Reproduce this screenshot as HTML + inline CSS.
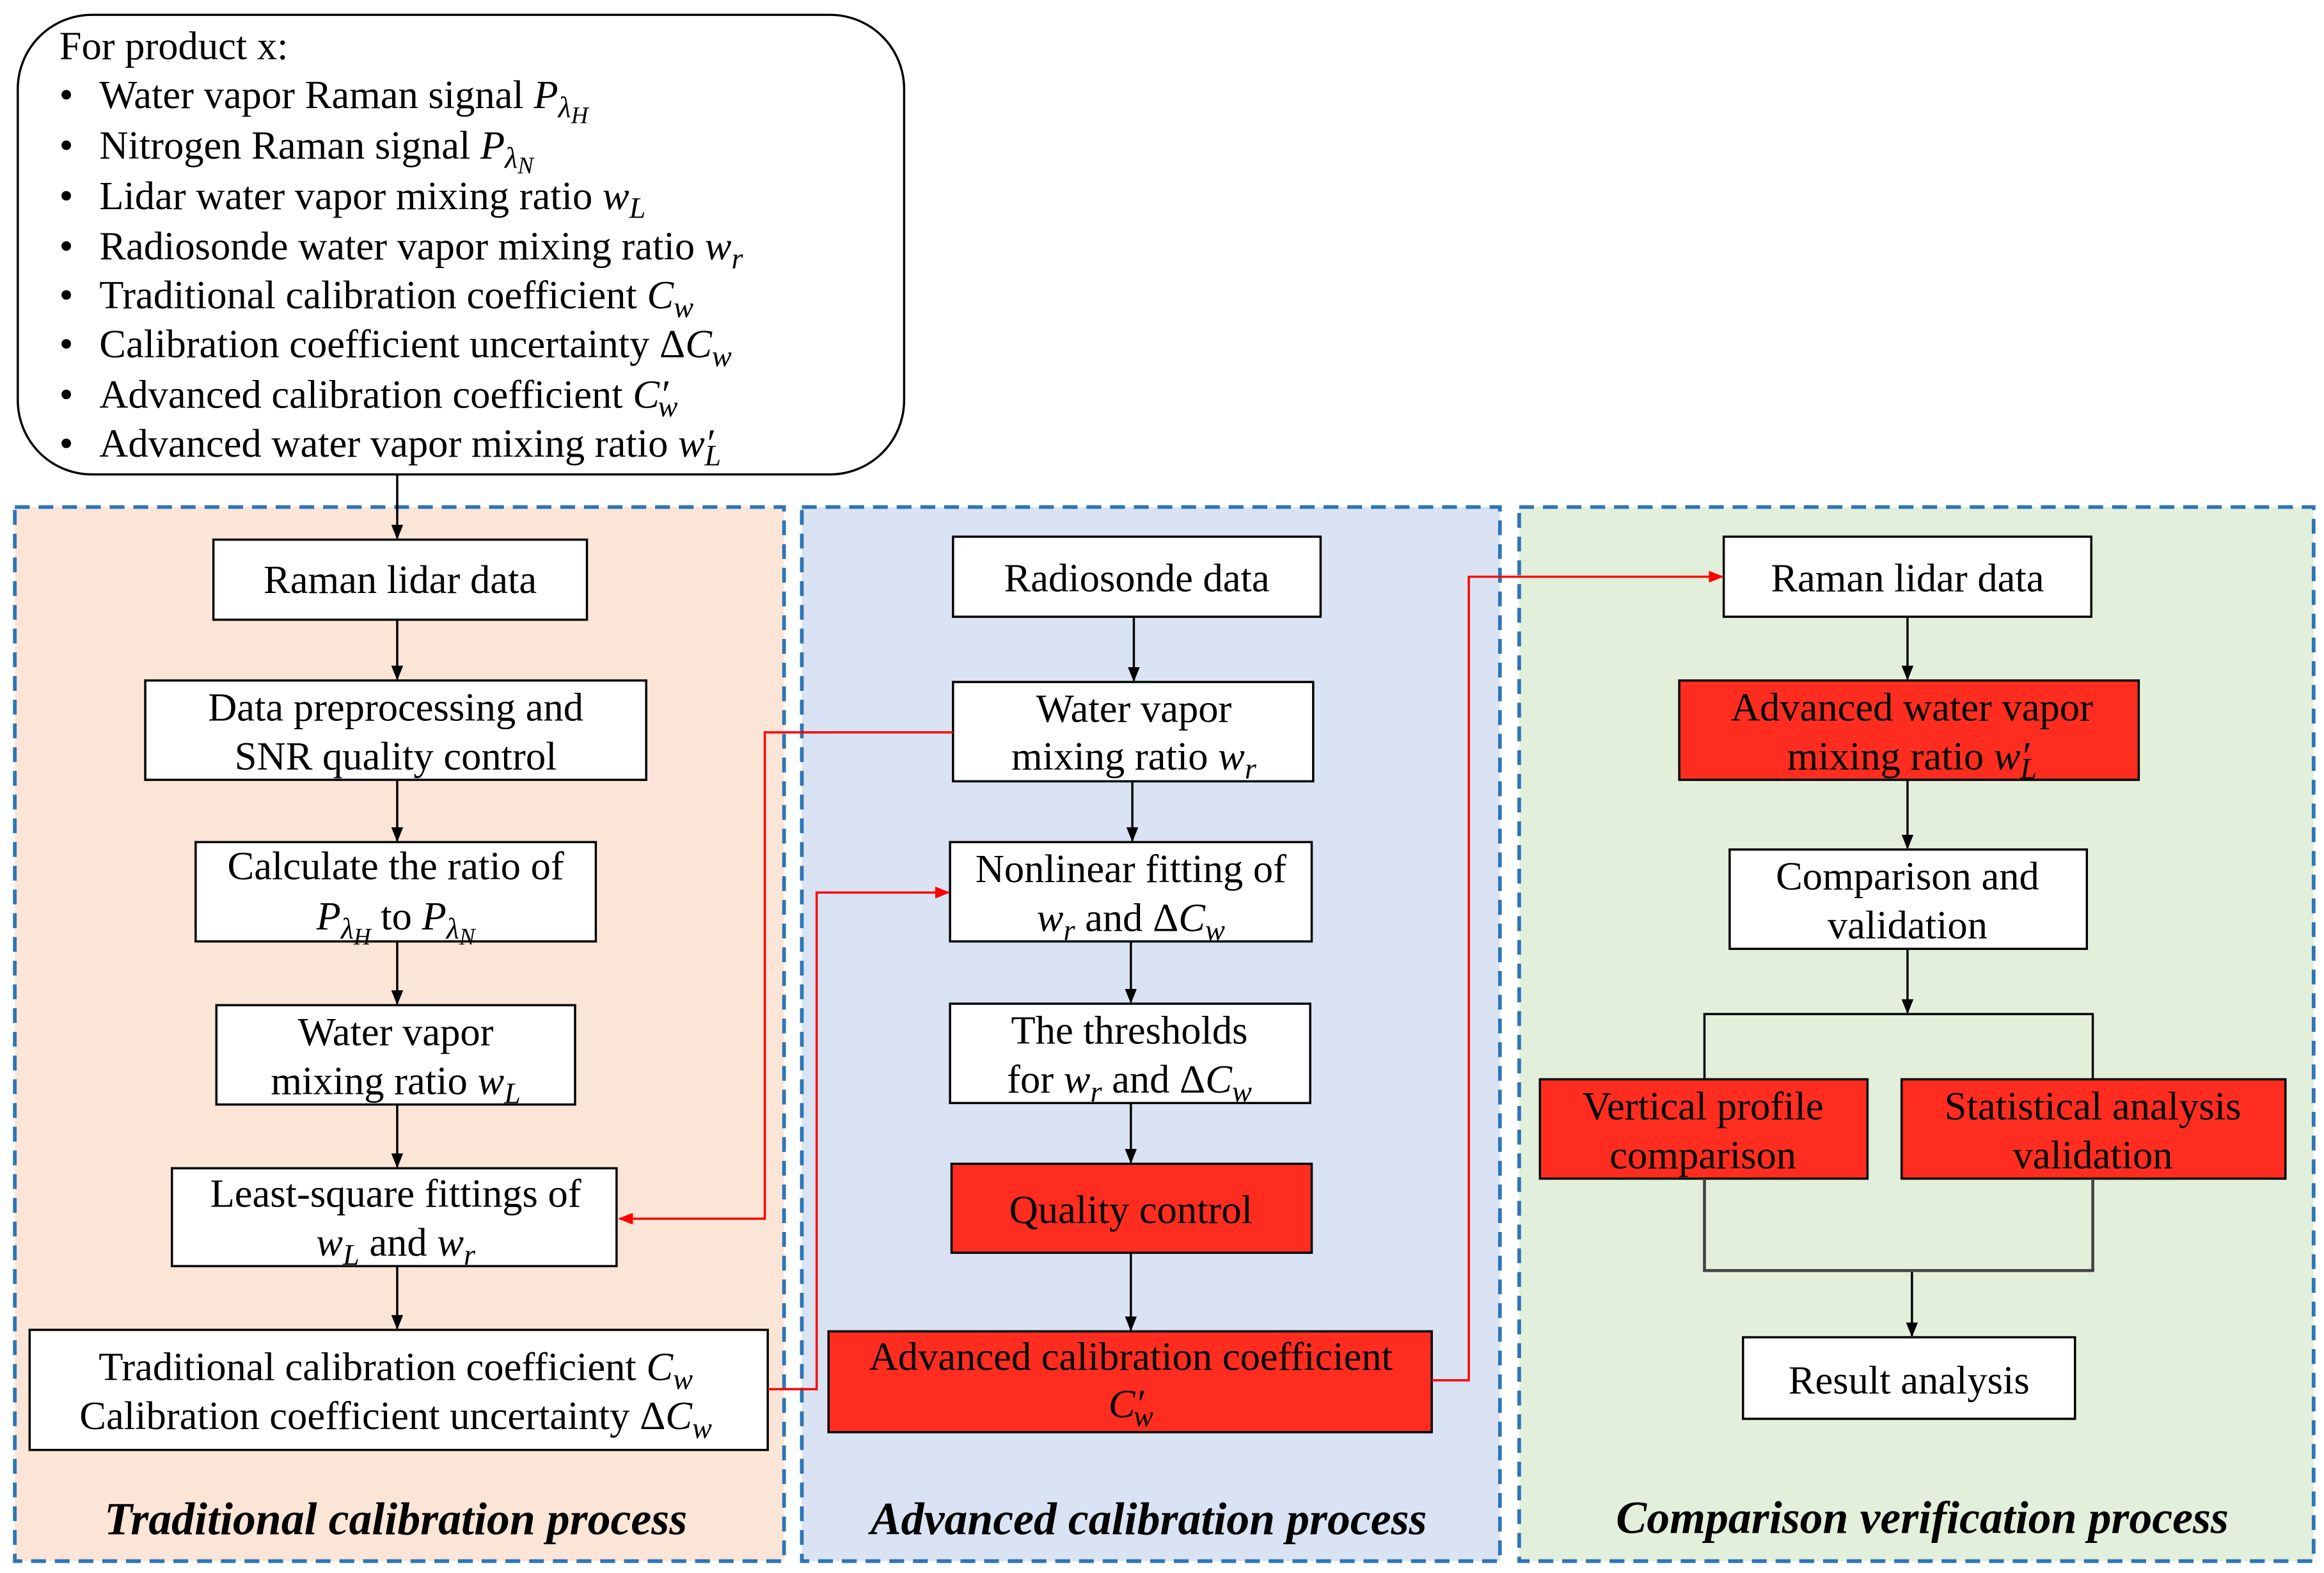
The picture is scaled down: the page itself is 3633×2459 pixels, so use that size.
<!DOCTYPE html>
<html><head><meta charset="utf-8"><style>
html,body{margin:0;padding:0;background:#fff}
svg{display:block}
svg text{font-family:"Liberation Serif","Times New Roman",serif;font-size:27px;fill:#000}
svg .c{text-anchor:middle}
svg .i{font-style:italic}
svg .t{font-size:31px;font-weight:bold;font-style:italic;text-anchor:middle}
</style></head><body>
<svg width="3633" height="2459" viewBox="0 0 1568 1061" preserveAspectRatio="none" xmlns="http://www.w3.org/2000/svg" font-family="Liberation Serif, serif">
<defs>
<marker id="a" markerWidth="10" markerHeight="10" refX="9" refY="5" orient="auto" markerUnits="userSpaceOnUse"><path d="M0,1 L10,5 L0,9 z" fill="#000"/></marker>
<marker id="r" markerWidth="10" markerHeight="10" refX="9" refY="5" orient="auto" markerUnits="userSpaceOnUse"><path d="M0,1 L10,5 L0,9 z" fill="#f00"/></marker>
</defs>
<rect width="1568" height="1061" fill="#fff"/>
<rect x="10" y="342" width="519" height="711" fill="#fbe5d6" stroke="#2e75b6" stroke-width="2.5" stroke-dasharray="10,6"/>
<rect x="541" y="342" width="471" height="711" fill="#dae3f3" stroke="#2e75b6" stroke-width="2.5" stroke-dasharray="10,6"/>
<rect x="1025" y="342" width="536" height="711" fill="#e2efda" stroke="#2e75b6" stroke-width="2.5" stroke-dasharray="10,6"/>
<rect x="12" y="10" width="598" height="310" rx="50" fill="#fff" stroke="#000" stroke-width="1.5"/>
<text x="40" y="40">For product x:</text>
<text x="40" y="73">•</text><text x="67" y="73">Water vapor Raman signal <tspan class="i">P</tspan><tspan class="i" font-size="20" dy="6">λ</tspan><tspan class="i" font-size="16" dy="4">H</tspan></text>
<text x="40" y="107">•</text><text x="67" y="107">Nitrogen Raman signal <tspan class="i">P</tspan><tspan class="i" font-size="20" dy="6">λ</tspan><tspan class="i" font-size="16" dy="4">N</tspan></text>
<text x="40" y="141">•</text><text x="67" y="141">Lidar water vapor mixing ratio <tspan class="i">w</tspan><tspan class="i" font-size="20" dy="6">L</tspan></text>
<text x="40" y="175">•</text><text x="67" y="175">Radiosonde water vapor mixing ratio <tspan class="i">w</tspan><tspan class="i" font-size="20" dy="6">r</tspan></text>
<text x="40" y="208">•</text><text x="67" y="208">Traditional calibration coefficient <tspan class="i">C</tspan><tspan class="i" font-size="20" dy="6">w</tspan></text>
<text x="40" y="241">•</text><text x="67" y="241">Calibration coefficient uncertainty Δ<tspan class="i">C</tspan><tspan class="i" font-size="20" dy="6">w</tspan></text>
<text x="40" y="275">•</text><text x="67" y="275">Advanced calibration coefficient <tspan class="i">C′</tspan><tspan class="i" font-size="20" dy="6" dx="-7">w</tspan></text>
<text x="40" y="308">•</text><text x="67" y="308">Advanced water vapor mixing ratio <tspan class="i">w′</tspan><tspan class="i" font-size="20" dy="6" dx="-6">L</tspan></text>
<line x1="268" y1="320" x2="268" y2="363" stroke="#000" stroke-width="1.5" marker-end="url(#a)"/>

<g stroke="#000" stroke-width="1.5">
<rect x="144" y="364" width="252" height="54" fill="#fff"/>
<rect x="98" y="459" width="338" height="67" fill="#fff"/>
<rect x="132" y="568" width="270" height="67" fill="#fff"/>
<rect x="146" y="678" width="242" height="67" fill="#fff"/>
<rect x="116" y="788" width="300" height="66" fill="#fff"/>
<rect x="20" y="897" width="498" height="81" fill="#fff"/>
<rect x="643" y="362" width="248" height="54" fill="#fff"/>
<rect x="643" y="460" width="243" height="67" fill="#fff"/>
<rect x="641" y="568" width="244" height="67" fill="#fff"/>
<rect x="641" y="677" width="243" height="67" fill="#fff"/>
<rect x="642" y="785" width="243" height="60" fill="#ff2d20"/>
<rect x="559" y="898" width="407" height="68" fill="#ff2d20"/>
<rect x="1163" y="362" width="248" height="54" fill="#fff"/>
<rect x="1133" y="459" width="310" height="67" fill="#ff2d20"/>
<rect x="1167" y="573" width="241" height="67" fill="#fff"/>
<rect x="1039" y="728" width="221" height="67" fill="#ff2d20"/>
<rect x="1283" y="728" width="259" height="67" fill="#ff2d20"/>
<rect x="1176" y="902" width="224" height="55" fill="#fff"/>
</g>
<g stroke="#000" stroke-width="1.5" marker-end="url(#a)">
<line x1="268" y1="418" x2="268" y2="458"/>
<line x1="268" y1="526" x2="268" y2="567"/>
<line x1="268" y1="635" x2="268" y2="677"/>
<line x1="268" y1="745" x2="268" y2="787"/>
<line x1="268" y1="854" x2="268" y2="896"/>
<line x1="765" y1="416" x2="765" y2="459"/>
<line x1="764" y1="527" x2="764" y2="567"/>
<line x1="763" y1="635" x2="763" y2="676"/>
<line x1="763" y1="744" x2="763" y2="784"/>
<line x1="763" y1="845" x2="763" y2="897"/>
<line x1="1287" y1="416" x2="1287" y2="458"/>
<line x1="1287" y1="526" x2="1287" y2="572"/>
<line x1="1287" y1="640" x2="1287" y2="683"/>
<line x1="1290" y1="857" x2="1290" y2="901"/>
</g>
<g stroke="#000" stroke-width="1.5" fill="none">
<polyline points="1150,728 1150,684 1412,684 1412,728"/>
<polyline points="1150,795 1150,857 1412,857 1412,795" stroke="#444" stroke-width="2"/>
</g>
<g stroke="#f00" stroke-width="1.5" fill="none" marker-end="url(#r)">
<polyline points="643,494 516,494 516,822 418,822"/>
<polyline points="518,937 551,937 551,602 640,602"/>
<polyline points="966,931 991,931 991,389 1162,389"/>
</g>
<text class="c" x="270" y="400">Raman lidar data</text>
<text class="c" x="267" y="486">Data preprocessing and</text>
<text class="c" x="267" y="519">SNR quality control</text>
<text class="c" x="267" y="593">Calculate the ratio of</text>
<text class="c" x="267" y="627"><tspan class="i">P</tspan><tspan class="i" font-size="20" dy="6">λ</tspan><tspan class="i" font-size="16" dy="4">H</tspan><tspan dy="-10"> to </tspan><tspan class="i">P</tspan><tspan class="i" font-size="20" dy="6">λ</tspan><tspan class="i" font-size="16" dy="4">N</tspan></text>
<text class="c" x="267" y="705">Water vapor</text>
<text class="c" x="267" y="738">mixing ratio <tspan class="i">w</tspan><tspan class="i" font-size="20" dy="6">L</tspan></text>
<text class="c" x="267" y="814">Least-square fittings of</text>
<text class="c" x="267" y="847"><tspan class="i">w</tspan><tspan class="i" font-size="20" dy="6">L</tspan><tspan dy="-6"> and </tspan><tspan class="i">w</tspan><tspan class="i" font-size="20" dy="6">r</tspan></text>
<text class="c" x="267" y="931">Traditional calibration coefficient <tspan class="i">C</tspan><tspan class="i" font-size="20" dy="6">w</tspan></text>
<text class="c" x="267" y="964">Calibration coefficient uncertainty Δ<tspan class="i">C</tspan><tspan class="i" font-size="20" dy="6">w</tspan></text>

<text class="c" x="767" y="399">Radiosonde data</text>
<text class="c" x="765" y="487">Water vapor</text>
<text class="c" x="765" y="519">mixing ratio <tspan class="i">w</tspan><tspan class="i" font-size="20" dy="6">r</tspan></text>
<text class="c" x="763" y="595">Nonlinear fitting of</text>
<text class="c" x="763" y="628"><tspan class="i">w</tspan><tspan class="i" font-size="20" dy="6">r</tspan><tspan dy="-6"> and Δ</tspan><tspan class="i">C</tspan><tspan class="i" font-size="20" dy="6">w</tspan></text>
<text class="c" x="762" y="704">The thresholds</text>
<text class="c" x="762" y="737">for <tspan class="i">w</tspan><tspan class="i" font-size="20" dy="6">r</tspan><tspan dy="-6"> and Δ</tspan><tspan class="i">C</tspan><tspan class="i" font-size="20" dy="6">w</tspan></text>
<text class="c" x="763" y="825">Quality control</text>
<text class="c" x="763" y="924">Advanced calibration coefficient</text>
<text class="c" x="763" y="956"><tspan class="i">C′</tspan><tspan class="i" font-size="20" dy="6" dx="-7">w</tspan></text>

<text class="c" x="1287" y="399">Raman lidar data</text>
<text class="c" x="1290" y="486">Advanced water vapor</text>
<text class="c" x="1290" y="519">mixing ratio <tspan class="i">w′</tspan><tspan class="i" font-size="20" dy="6" dx="-6">L</tspan></text>
<text class="c" x="1287" y="600">Comparison and</text>
<text class="c" x="1287" y="633">validation</text>
<text class="c" x="1149" y="755">Vertical profile</text>
<text class="c" x="1149" y="788">comparison</text>
<text class="c" x="1412" y="755">Statistical analysis</text>
<text class="c" x="1412" y="788">validation</text>
<text class="c" x="1288" y="940">Result analysis</text>

<text class="t" x="267" y="1035">Traditional calibration process</text>
<text class="t" x="775" y="1035">Advanced calibration process</text>
<text class="t" x="1297" y="1034">Comparison verification process</text>
</svg>
</body></html>
